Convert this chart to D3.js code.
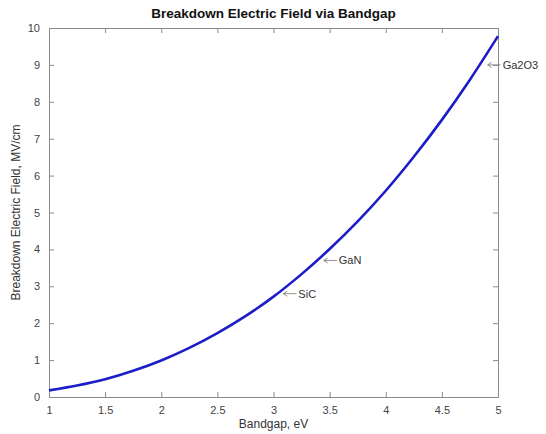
<!DOCTYPE html>
<html>
<head>
<meta charset="utf-8">
<script src="https://cdn.jsdelivr.net/npm/d3@7"></script>
<style>
  body { margin: 0; background: #fff; }
  text { font-family: "Liberation Sans", Arial, sans-serif; }
</style>
</head>
<body>
<div class="chart"></div>
<script>
// values
var bandgap = [1, 1.25, 1.5, 1.75, 2, 2.25, 2.5, 2.75, 3, 3.25, 3.5, 3.75, 4, 4.25, 4.5, 4.75, 5];
var field = [0.18, 0.31, 0.48, 0.71, 0.99, 1.33, 1.73, 2.19, 2.72, 3.33, 4.01, 4.76, 5.59, 6.51, 7.51, 8.60, 9.78];

var materials = ["SiC", "GaN", "Ga2O3"];
var matGap = [3.07, 3.43, 4.89];
var matField = [2.8, 3.7, 9.0];

var xTicks = [1, 1.5, 2, 2.5, 3, 3.5, 4, 4.5, 5];
var yTicks = [0, 1, 2, 3, 4, 5, 6, 7, 8, 9, 10];

var svgWidth = 546, svgHeight = 434;
var margin = { top: 28, right: 48, bottom: 37, left: 49 };
var width = svgWidth - margin.left - margin.right;
var height = svgHeight - margin.top - margin.bottom;

var svg = d3.select(".chart").append("svg")
  .attr("width", svgWidth)
  .attr("height", svgHeight);

var chartGroup = svg.append("g")
  .attr("transform", `translate(${margin.left}, ${margin.top})`);

var x = d3.scaleLinear().domain([1, 5]).range([0, width]);
var y = d3.scaleLinear().domain([0, 10]).range([height, 0]);

// axes, ticks pointing inward like matlab
function styleAxis(g) {
  g.select(".domain").attr("stroke", "#8a8a8a");
  g.selectAll(".tick line").attr("stroke", "#8a8a8a");
  g.selectAll(".tick text").attr("fill", "#444").attr("font-size", 11);
}

chartGroup.append("g")
  .attr("transform", `translate(0, ${height})`)
  .call(d3.axisBottom(x).tickValues(xTicks).tickSize(-5).tickSizeOuter(0).tickPadding(9).tickFormat(d3.format("")))
  .call(styleAxis);

chartGroup.append("g")
  .call(d3.axisTop(x).tickValues(xTicks).tickSize(-5).tickSizeOuter(0).tickFormat(""))
  .call(styleAxis);

chartGroup.append("g")
  .call(d3.axisLeft(y).tickValues(yTicks).tickSize(-5).tickSizeOuter(0).tickPadding(9))
  .call(styleAxis);

chartGroup.append("g")
  .attr("transform", `translate(${width}, 0)`)
  .call(d3.axisRight(y).tickValues(yTicks).tickSize(-5).tickSizeOuter(0).tickFormat(""))
  .call(styleAxis);

// curve
var pts = bandgap.map((b, i) => [b, field[i]]);
var line = d3.line()
  .x(d => x(d[0]))
  .y(d => y(d[1]))
  .curve(d3.curveMonotoneX);

chartGroup.append("path")
  .datum(pts)
  .attr("d", line)
  .attr("fill", "none")
  .attr("stroke", "#1c1cc8")
  .attr("stroke-width", 2.6);

// annotations: small left arrow then label
var notes = chartGroup.selectAll(".note")
  .data(materials.map((m, i) => ({ name: m, gap: matGap[i], f: matField[i] })))
  .enter()
  .append("g")
  .attr("transform", d => `translate(${x(d.gap) + 2}, ${y(d.f)})`);

notes.append("line")
  .attr("x1", 0).attr("x2", 13)
  .attr("y1", 0).attr("y2", 0)
  .attr("stroke", "#777")
  .attr("stroke-width", 0.8);

notes.append("path")
  .attr("d", "M0,0 L4,-2.5 M0,0 L4,2.5")
  .attr("stroke", "#777")
  .attr("stroke-width", 0.8)
  .attr("fill", "none");

notes.append("text")
  .attr("x", 15)
  .attr("y", 4)
  .attr("font-size", 11)
  .attr("fill", "#333")
  .text(d => d.name);

// titles
svg.append("text")
  .attr("x", margin.left + width / 2)
  .attr("y", 18)
  .attr("text-anchor", "middle")
  .attr("font-size", 13.5)
  .attr("font-weight", "bold")
  .attr("fill", "#111")
  .text("Breakdown Electric Field via Bandgap");

svg.append("text")
  .attr("transform", "rotate(-90)")
  .attr("x", -(margin.top + height / 2))
  .attr("y", 20)
  .attr("text-anchor", "middle")
  .attr("font-size", 12)
  .attr("fill", "#333")
  .text("Breakdown Electric Field, MV/cm");

svg.append("text")
  .attr("x", margin.left + width / 2)
  .attr("y", 428)
  .attr("text-anchor", "middle")
  .attr("font-size", 12)
  .attr("fill", "#333")
  .text("Bandgap, eV");
</script>
</body>
</html>
